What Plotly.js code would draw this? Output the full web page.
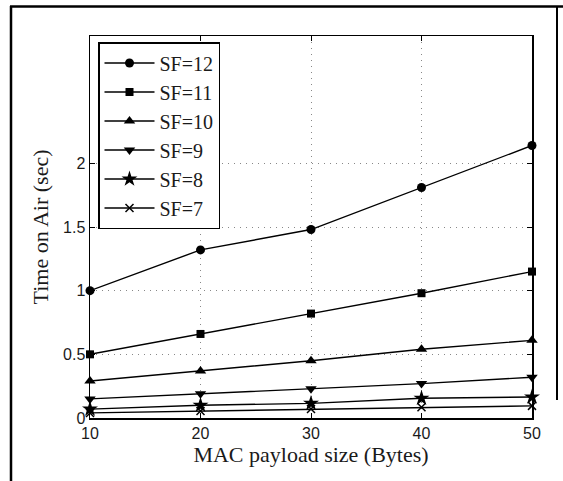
<!DOCTYPE html>
<html>
<head>
<meta charset="utf-8">
<script src="https://cdn.plot.ly/plotly-3.0.1.min.js"></script>
<style>
html,body{margin:0;padding:0;background:#fff;}
#chart{width:563px;height:481px;}
</style>
</head>
<body>
<div id="chart"></div>
<script>
// Data
var payloadSizes = [10, 20, 30, 40, 50];
var seriesNames = ['SF=12', 'SF=11', 'SF=10', 'SF=9', 'SF=8', 'SF=7'];
var sf12 = [1.00, 1.32, 1.48, 1.81, 2.14];
var sf11 = [0.50, 0.66, 0.82, 0.98, 1.15];
var sf10 = [0.29, 0.37, 0.45, 0.54, 0.61];
var sf9  = [0.15, 0.19, 0.23, 0.27, 0.32];
var sf8  = [0.07, 0.10, 0.115, 0.155, 0.165];
var sf7  = [0.04, 0.055, 0.07, 0.085, 0.095];
var yTickVals = [0, 0.5, 1, 1.5, 2];
var yTickText = ['0', '0.5', '1', '1.5', '2'];
var xTickVals = [10, 20, 30, 40, 50];
var xTickText = ['10', '20', '30', '40', '50'];

var seriesValues = [sf12, sf11, sf10, sf9, sf8, sf7];
var symbols = ['circle', 'square', 'triangle-up', 'triangle-down', 'star', 'x-thin-open'];
var sizes = [9, 8, 10, 10, 12, 8];

var traces = seriesValues.map(function (vals, i) {
  return {
    x: payloadSizes,
    y: vals,
    name: seriesNames[i],
    type: 'scatter',
    mode: 'lines+markers',
    cliponaxis: false,
    line: {color: '#000', width: 1.4},
    marker: {
      symbol: symbols[i],
      size: sizes[i],
      color: '#000',
      line: {color: '#000', width: symbols[i] === 'x-thin-open' ? 1.5 : 0}
    }
  };
});

var serif = 'Liberation Serif, Times New Roman, serif';
var sans = 'Liberation Sans, Arial, sans-serif';
var textColor = '#1a1a1a';

function px(xp) { return (xp - 90) / 442; }
function py(yp) { return (418 - yp) / 382; }

var layout = {
  width: 563,
  height: 481,
  margin: {l: 90, r: 31, t: 36, b: 63},
  paper_bgcolor: '#fff',
  plot_bgcolor: '#fff',
  showlegend: true,
  legend: {
    x: px(98), y: py(42), xanchor: 'left', yanchor: 'top',
    bgcolor: '#fff', bordercolor: '#000', borderwidth: 1.5,
    font: {family: serif, size: 20, color: textColor},
    itemwidth: 50,
    tracegroupgap: 0
  },
  xaxis: {
    range: [10, 50],
    tickvals: xTickVals,
    ticktext: xTickText,
    showgrid: true, gridcolor: '#888', griddash: '1px,5px', gridwidth: 1,
    zeroline: false,
    showline: true, linecolor: '#000', linewidth: 1.5, mirror: 'ticks',
    ticks: 'inside', ticklen: 5, tickcolor: '#000', tickwidth: 1,
    tickfont: {family: sans, size: 16, color: textColor},
    title: {text: 'MAC payload size (Bytes)', font: {family: serif, size: 22, color: textColor}, standoff: 6}
  },
  yaxis: {
    range: [0, 3],
    tickvals: yTickVals,
    ticktext: yTickText,
    showgrid: true, gridcolor: '#888', griddash: '1px,5px', gridwidth: 1,
    zeroline: false,
    showline: true, linecolor: '#000', linewidth: 1.5, mirror: 'ticks',
    ticks: 'inside', ticklen: 5, tickcolor: '#000', tickwidth: 1,
    tickfont: {family: sans, size: 16, color: textColor},
    title: {text: 'Time on Air (sec)', font: {family: serif, size: 22, color: textColor}, standoff: 8}
  },
  shapes: [
    {type: 'line', xref: 'paper', yref: 'paper', x0: px(11), x1: px(11), y0: py(6), y1: py(481), line: {color: '#000', width: 2.5}},
    {type: 'line', xref: 'paper', yref: 'paper', x0: px(10), x1: px(563), y0: py(6.5), y1: py(6.5), line: {color: '#000', width: 2.5}},
    {type: 'line', xref: 'paper', yref: 'paper', x0: px(557), x1: px(557), y0: py(6), y1: py(400), line: {color: '#000', width: 2}}
  ]
};

Plotly.newPlot('chart', traces, layout, {displayModeBar: false, staticPlot: true});
</script>
</body>
</html>
